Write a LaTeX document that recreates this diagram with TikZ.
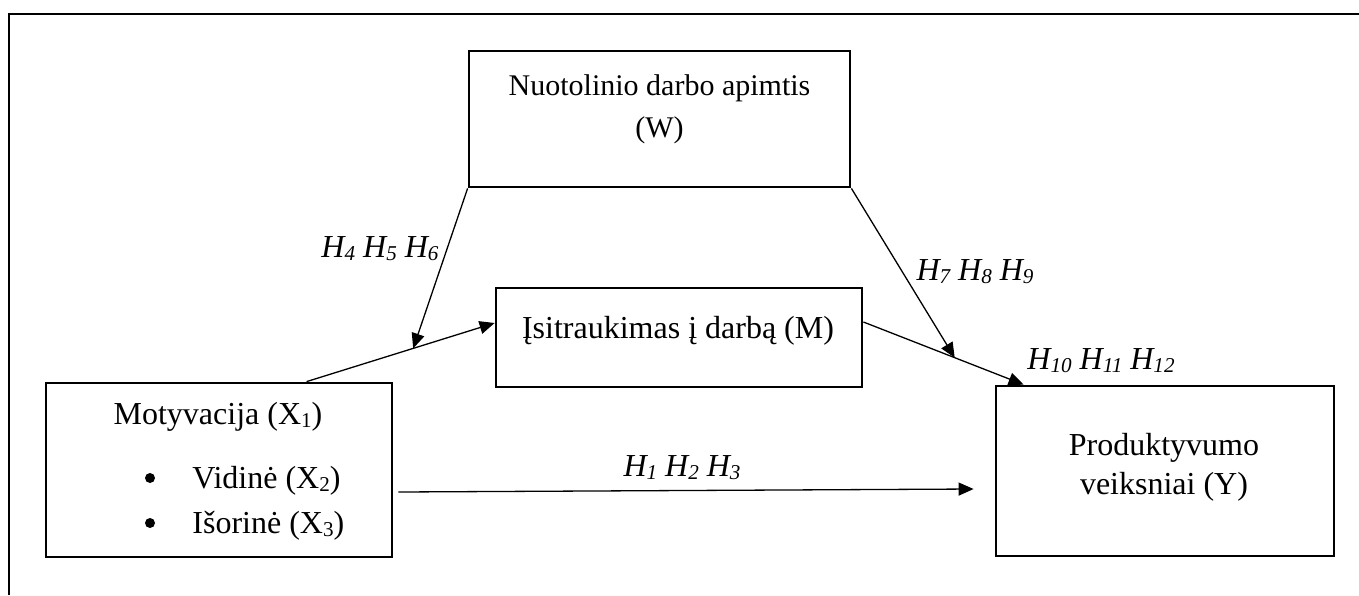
\documentclass[tikz,border=0pt]{standalone}
\usepackage{fontspec}
\setmainfont{Liberation Serif}
\usetikzlibrary{arrows.meta,calc}
\makeatletter
\newcommand\lsub[1]{\raisebox{-0.1em}{\fontsize{\strip@pt\dimexpr0.66\dimexpr\f@size pt\relax\relax}{1}\selectfont #1}}
\makeatother
\begin{document}
\begin{tikzpicture}[x=0.5pt,y=-0.5pt,
  box/.style={draw,line width=1.4pt,inner sep=0pt},
  txt/.style={inner sep=0pt,font=\fontsize{16}{19}\selectfont,anchor=base},
  wtxt/.style={inner sep=0pt,font=\fontsize{15}{18}\selectfont,anchor=base},
  hyp/.style={inner sep=0pt,font=\fontsize{16}{19}\selectfont\itshape,anchor=base},
  dot/.style={circle,fill,inner sep=0pt,minimum size=5pt},
  conn/.style={line width=0.65pt,-{Triangle[length=7.5pt,width=6.5pt]}}]
\useasboundingbox (0,0) rectangle (1359,595);
\draw[line width=1pt] (9,595) -- (9,14) -- (1359,14);

% boxes
\node[box,minimum width=190.5pt,minimum height=68pt] (W) at (659.5,119) {};
\node[box,minimum width=183pt,minimum height=49.5pt] (M) at (679,337.5) {};
\node[box,minimum width=173pt,minimum height=87pt] (X) at (219,470) {};
\node[box,minimum width=169pt,minimum height=85pt] (Y) at (1165,471) {};

% texts
\node[wtxt] (Wt1) at (659.5,95) {Nuotolinio darbo apimtis};
\node[wtxt] (Wt2) at (659.5,137) {(W)};
\node[txt] (Mt) at (678,338) {Įsitraukimas į darbą (M)};
\node[txt] (Xt) at (218,424) {Motyvacija (X\lsub{1})};
\node[dot] (ba) at (150,478) {};
\node[dot] (bb) at (150,523) {};
\node[txt,anchor=base west] (Xa) at (192,488) {Vidinė (X\lsub{2})};
\node[txt,anchor=base west] (Xb) at (192,533) {Išorinė (X\lsub{3})};
\node[txt] (Yt1) at (1164,455) {Produktyvumo};
\node[txt] (Yt2) at (1164,494) {veiksniai (Y)};

% hypothesis labels
\node[hyp] (h456) at (380,257) {H\lsub{4} H\lsub{5} H\lsub{6}};
\node[hyp] (h789) at (975,280) {H\lsub{7} H\lsub{8} H\lsub{9}};
\node[hyp] (h101112) at (1101,369) {H\lsub{10} H\lsub{11} H\lsub{12}};
\node[hyp] (h123) at (682,476) {H\lsub{1} H\lsub{2} H\lsub{3}};

% connectors
\coordinate (xm0) at ([xshift=131pt]X.north west);
\coordinate (xm1) at ([yshift=7.25pt]M.west);
\draw[conn] (xm0) -- (xm1);
\coordinate (xmw) at ($(xm0)!0.567!(xm1)$);
\draw[conn] (W.south west) -- (xmw);

\coordinate (my0) at ([yshift=7.75pt]M.east);
\coordinate (my1) at ([xshift=14.5pt]Y.north west);
\draw[conn] (my0) -- (my1);
\coordinate (myw) at ($(my0)!0.57!(my1)$);
\draw[conn] (W.south east) -- (myw);

\coordinate (xy0) at ([xshift=2.5pt,yshift=-11pt]X.east);
\coordinate (xy1) at ([xshift=-10.5pt,yshift=-9pt]Y.west);
\draw[conn] (xy0) -- (xy1);
\end{tikzpicture}
\end{document}
